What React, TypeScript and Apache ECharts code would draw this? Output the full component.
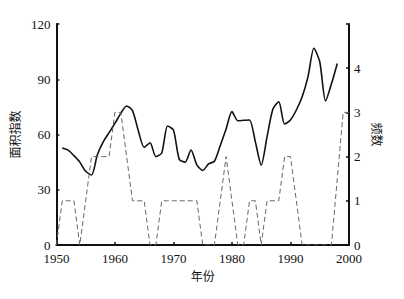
import React, { useEffect, useRef } from "react";
import * as echarts from "echarts";

const years: number[] = [];
for (let y = 1950; y <= 2000; y++) years.push(y);

// 面积指数 (index), 1951-1998
const indexYears = [
  1951, 1952, 1953, 1954, 1955, 1956, 1957, 1958, 1959, 1960,
  1961, 1962, 1963, 1964, 1965, 1966, 1967, 1968, 1969, 1970,
  1971, 1972, 1973, 1974, 1975, 1976, 1977, 1978, 1979, 1980,
  1981, 1982, 1983, 1984, 1985, 1986, 1987, 1988, 1989, 1990,
  1991, 1992, 1993, 1994, 1995, 1996, 1997, 1998,
];
const indexValues = [
  52.7, 51.5, 48.5, 45, 40, 38, 49, 56, 61, 66,
  71.5, 75.5, 73, 62, 53, 55.5, 48, 50, 64.6, 62.4,
  46.5, 45, 51.6, 43.5, 40.5, 44, 45.5, 54, 63, 72.4,
  67.5, 67.7, 67.9, 56, 43.4, 58.8, 73.8, 77.8, 65.7, 67.9,
  73.3, 80.5, 91.4, 106.8, 99.5, 78.2, 87.5, 98.6,
];

// 频数 (frequency), 1950-2000
const freqYears = years;
const freqValues = [
  0, 1, 1, 1, 0, 1, 2, 2, 2, 2,
  3, 3, 2, 1, 1, 1, 0, 0, 1, 1,
  1, 1, 1, 1, 1, 0, 0, 0, 1, 2,
  1, 0, 0, 1, 1, 0, 1, 1, 1, 2,
  2, 1, 0, 0, 0, 0, 0, 0, 1.5, 3,
  3,
];

const xTicks = { min: 1950, max: 2000, interval: 10 };
const leftTicks = { min: 0, max: 120, interval: 30 };
const rightTicks = { min: 0, max: 5, interval: 1 };

const serif = "'Liberation Serif', 'DejaVu Serif', serif";
const cjk = "'Noto Sans CJK SC', sans-serif";

export default function App() {
  const ref = useRef<HTMLDivElement>(null);
  useEffect(() => {
    if (!ref.current) return;
    const chart = echarts.init(ref.current, null, { renderer: "svg" });
    const axisLine = { show: true, lineStyle: { color: "#111", width: 2 } };
    chart.setOption({
      animation: false,
      backgroundColor: "#fff",
      grid: { left: 47, right: 55, top: 24, bottom: 54 },
      xAxis: {
        type: "value",
        min: xTicks.min,
        max: xTicks.max,
        interval: xTicks.interval,
        axisLine,
        axisTick: { show: true, inside: true, length: 3, lineStyle: { color: "#111", width: 1.5 } },
        axisLabel: {
          margin: 7,
          color: "#111",
          fontFamily: serif,
          fontSize: 13,
          formatter: (v: number) => String(v),
        },
        splitLine: { show: false },
        name: "年份",
        nameLocation: "middle",
        nameGap: 19,
        nameTextStyle: { fontFamily: cjk, fontSize: 12, color: "#111" },
      },
      yAxis: [
        {
          type: "value",
          min: leftTicks.min,
          max: leftTicks.max,
          interval: leftTicks.interval,
          position: "left",
          axisLine,
          axisTick: { show: true, inside: true, length: 3, lineStyle: { color: "#111", width: 1.5 } },
          axisLabel: { margin: 6, color: "#111", fontFamily: serif, fontSize: 13 },
          splitLine: { show: false },
          name: "面积指数",
          nameLocation: "middle",
          nameRotate: 90,
          nameGap: 26,
          nameTextStyle: { fontFamily: cjk, fontSize: 12, color: "#111" },
        },
        {
          type: "value",
          min: rightTicks.min,
          max: rightTicks.max,
          interval: rightTicks.interval,
          position: "right",
          axisLine,
          axisTick: { show: true, inside: true, length: 3, lineStyle: { color: "#111", width: 1.5 } },
          axisLabel: {
            margin: 5,
            color: "#111",
            fontFamily: serif,
            fontSize: 13,
            formatter: (v: number) => (v === rightTicks.max ? "" : String(v)),
          },
          splitLine: { show: false },
          name: "频数",
          nameLocation: "middle",
          nameRotate: -90,
          nameGap: 18,
          nameTextStyle: { fontFamily: cjk, fontSize: 12, color: "#111" },
        },
      ],
      series: [
        {
          type: "line",
          yAxisIndex: 0,
          data: indexYears.map((y, i) => [y, indexValues[i]]),
          symbol: "none",
          smooth: 0.25,
          lineStyle: { color: "#111", width: 1.6 },
        },
        {
          type: "line",
          yAxisIndex: 1,
          data: freqYears.map((y, i) => [y, freqValues[i]]),
          symbol: "none",
          lineStyle: { color: "#666", width: 1, type: [5, 3] },
        },
      ],
    });
    return () => chart.dispose();
  }, []);
  return (
    <div
      ref={ref}
      style={{ position: "fixed", left: 0, top: 0, width: 404, height: 299, background: "#fff" }}
    />
  );
}
